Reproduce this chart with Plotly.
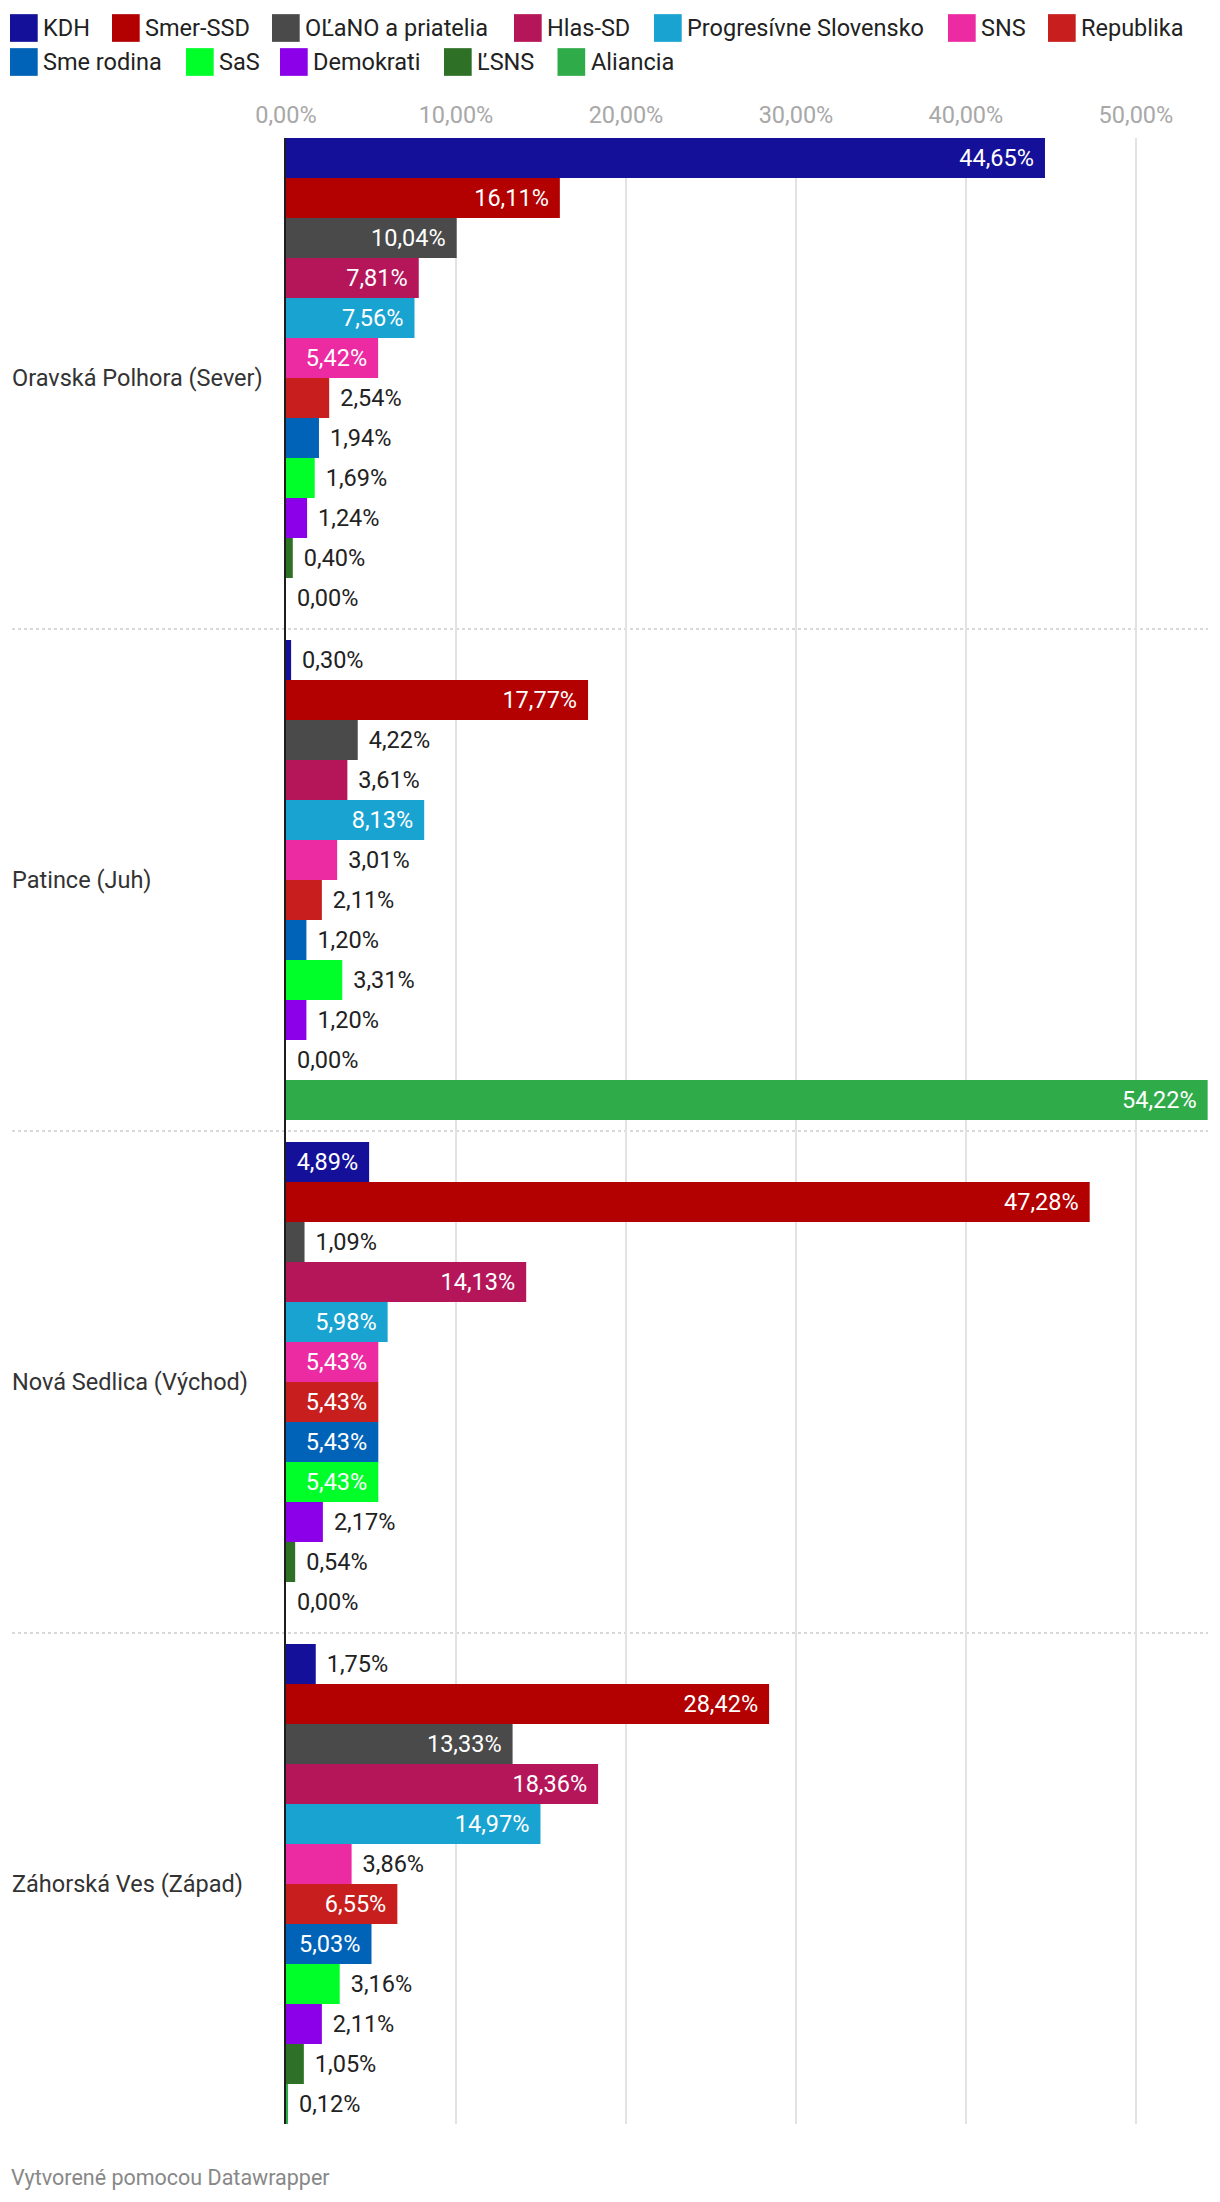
import plotly.graph_objects as go

# ---------------- data ----------------
districts = ["Oravská Polhora (Sever)", "Patince (Juh)", "Nová Sedlica (Východ)", "Záhorská Ves (Západ)"]
parties = ["KDH", "Smer-SSD", "OĽaNO a priatelia", "Hlas-SD", "Progresívne Slovensko", "SNS",
           "Republika", "Sme rodina", "SaS", "Demokrati", "ĽSNS", "Aliancia"]

kdh = [44.65, 0.30, 4.89, 1.75]
smer = [16.11, 17.77, 47.28, 28.42]
olano = [10.04, 4.22, 1.09, 13.33]
hlas = [7.81, 3.61, 14.13, 18.36]
ps = [7.56, 8.13, 5.98, 14.97]
sns = [5.42, 3.01, 5.43, 3.86]
republika = [2.54, 2.11, 5.43, 6.55]
sme_rodina = [1.94, 1.20, 5.43, 5.03]
sas = [1.69, 3.31, 5.43, 3.16]
demokrati = [1.24, 1.20, 2.17, 2.11]
lsns = [0.40, 0.00, 0.54, 1.05]
aliancia = [0.00, 54.22, 0.00, 0.12]

x_ticks = [0, 10, 20, 30, 40, 50]
footer = "Vytvorené pomocou Datawrapper"

series = [kdh, smer, olano, hlas, ps, sns, republika, sme_rodina, sas, demokrati, lsns, aliancia]

# ---------------- styles ----------------
colors = ["#15109a", "#b30000", "#4a4a4a", "#b5165a", "#19a3d1", "#ec2aa1",
          "#c81e1e", "#0063b8", "#00ff28", "#8b00e8", "#2e7126", "#30ab4a"]

def fmt(v):
    return f"{v:.2f}".replace(".", ",") + "%"

OFF = 8                      # default page body margin
W, H = 1220 - 2 * OFF, 2202 - 2 * OFF
PL, PR = 286, 1208           # plot area x (page px)
PT, PB = 138, 2124           # plot area y (page px)
FONT = "Roboto"
FS = 23.5
INSIDE_MIN = 4.5
APAD = 3                     # annotation inner padding
GAP = "\u2004"               # extra spacing between bar end and value label

def px_x(px):
    return (px - PL) / (PR - PL)

def px_y(py):
    return (PB - py) / (PB - PT)

fig = go.Figure()
for name, vals, col in zip(parties, series, colors):
    pos = ["inside" if v >= INSIDE_MIN else "outside" for v in vals]
    txt = [(fmt(v) + GAP) if p == "inside" else (GAP + fmt(v)) for v, p in zip(vals, pos)]
    fig.add_trace(go.Bar(
        name=name, y=districts, x=vals, orientation="h",
        marker=dict(color=col, line=dict(width=0)),
        text=txt, textposition=pos, texttemplate="%{text}",
        insidetextanchor="end", constraintext="none", textangle=0,
        insidetextfont=dict(family=FONT, size=FS, color="#ffffff"),
        outsidetextfont=dict(family=FONT, size=FS, color="#222222"),
        cliponaxis=False, hoverinfo="skip", showlegend=False,
    ))

bargap = 0.0438
fig.update_layout(
    width=W, height=H,
    margin=dict(l=PL - OFF, r=(W + OFF) - PR, t=PT - OFF, b=(H + OFF) - PB, pad=0),
    paper_bgcolor="white", plot_bgcolor="white",
    barmode="group", bargap=bargap, bargroupgap=0,
    separators=",.",
    font=dict(family=FONT, size=FS, color="#222222"),
    showlegend=False,
    xaxis=dict(
        side="top", range=[0, 54.24], tickmode="array", tickvals=x_ticks,
        ticktext=[fmt(t) for t in x_ticks],
        tickfont=dict(family=FONT, size=FS, color="#a8a8a8"), ticklabelstandoff=9,
        showgrid=True, gridcolor="#e2e2e2", gridwidth=1.5, zeroline=False,
        ticks="", showline=False, fixedrange=True,
    ),
    yaxis=dict(
        type="category", categoryorder="array", categoryarray=districts,
        range=[len(districts) - 0.5 - bargap / 2, -0.5 + bargap / 2],
        showticklabels=False, showgrid=False, zeroline=False,
        showline=True, linecolor="#1d1d1d", linewidth=2, ticks="", fixedrange=True,
    ),
)

shapes = []
annotations = []

# group separators (dotted)
for i in range(len(districts) - 1):
    shapes.append(dict(type="line", xref="paper", yref="y", x0=px_x(12), x1=1,
                       y0=i + 0.5, y1=i + 0.5,
                       line=dict(color="#cccccc", width=1.5, dash="dot"), layer="below"))

# category labels
for d in districts:
    annotations.append(dict(text=d, xref="paper", yref="y", x=px_x(12.5 - APAD), y=d,
                            xanchor="left", yanchor="middle", showarrow=False,
                            font=dict(family=FONT, size=FS, color="#333333")))

# custom legend (layout positions in page px)
legend_rows = [0, 0, 0, 0, 0, 0, 0, 1, 1, 1, 1, 1]
legend_x = [10, 112, 272, 514, 654, 948, 1048, 10, 186, 280, 444, 557.5]
row_cy = [28, 62]
SW = 27.7
for name, col, r, lx in zip(parties, colors, legend_rows, legend_x):
    cy = row_cy[r]
    shapes.append(dict(type="rect", xref="paper", yref="paper",
                       x0=px_x(lx), x1=px_x(lx + SW), y0=px_y(cy + SW / 2), y1=px_y(cy - SW / 2),
                       fillcolor=col, line=dict(width=0)))
    annotations.append(dict(text=name, xref="paper", yref="paper", x=px_x(lx + SW + 6.5 - APAD), y=px_y(cy),
                            xanchor="left", yanchor="middle", showarrow=False,
                            font=dict(family=FONT, size=FS, color="#222222")))

# footer
annotations.append(dict(text=footer, xref="paper", yref="paper", x=px_x(11.5 - APAD), y=px_y(2177),
                        xanchor="left", yanchor="middle", showarrow=False,
                        font=dict(family=FONT, size=21.5, color="#888888")))

fig.update_layout(shapes=shapes, annotations=annotations)
fig.write_html("out.html")
